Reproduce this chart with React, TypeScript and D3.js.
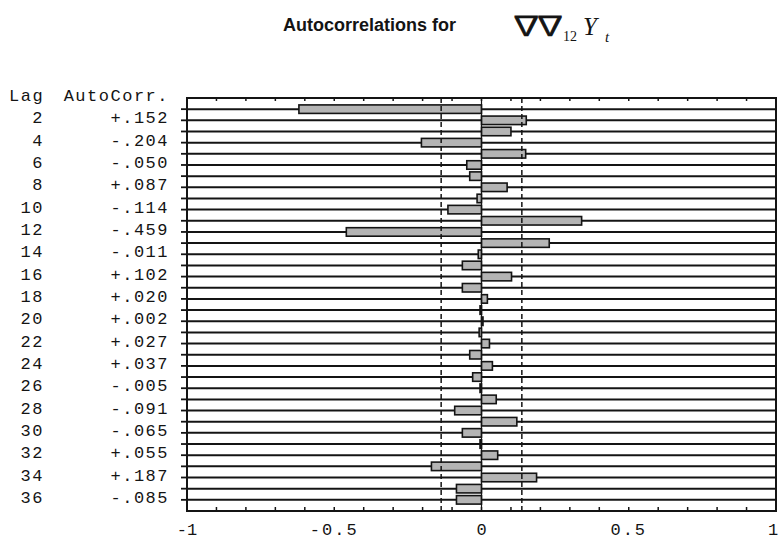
import React from "react";
import * as d3 from "d3";

// Sample autocorrelations of the doubly differenced series, lags 1..36
const lags = [
  1, 2, 3, 4, 5, 6, 7, 8, 9, 10, 11, 12, 13, 14, 15, 16, 17, 18,
  19, 20, 21, 22, 23, 24, 25, 26, 27, 28, 29, 30, 31, 32, 33, 34, 35, 36,
];
const acf = [
  -0.62, 0.152, 0.1, -0.204, 0.15, -0.05, -0.04, 0.087, -0.015, -0.114,
  0.34, -0.459, 0.23, -0.011, -0.065, 0.102, -0.065, 0.02, -0.005, 0.002,
  -0.008, 0.027, -0.04, 0.037, -0.03, -0.005, 0.05, -0.091, 0.12, -0.065,
  -0.005, 0.055, -0.17, 0.187, -0.085, -0.085,
];
// approximate two-standard-error limits
const limit = 0.137;
const xTicks = [-1, -0.5, 0, 0.5, 1];
const xTickLabels = ["-1", "-0.5", "0", "0.5", "1"];
const minorTicks = [
  -0.9, -0.8, -0.7, -0.6, -0.5, -0.4, -0.3, -0.2, -0.1, 0, 0.1, 0.2, 0.3,
  0.4, 0.5, 0.6, 0.7, 0.8, 0.9,
];

const W = 780;
const H = 542;
const left = 187;
const right = 776;
const top = 98;
const bottom = 511;

const mono = "'Liberation Mono', 'Courier New', 'DejaVu Sans Mono', monospace";

function fmt(v: number): string {
  return (v >= 0 ? "+" : "-") + Math.abs(v).toFixed(3).slice(1);
}

export default function App() {
  const x = d3.scaleLinear().domain([-1, 1]).range([left, right]);
  const y = d3.scaleLinear().domain([0, 37]).range([top, bottom]);
  const barH = 8.5;
  const ink = "#141414";

  return (
    <svg
      width={W}
      height={H}
      viewBox={`0 0 ${W} ${H}`}
      style={{ position: "absolute", left: 0, top: 0, background: "#fff" }}
    >
      {/* title */}
      <text
        x={283}
        y={31}
        fontFamily="'Liberation Sans', Arial, sans-serif"
        fontWeight="bold"
        fontSize={18}
        fill={ink}
      >
        Autocorrelations for
      </text>
      <text
        fontFamily="'Noto Sans CJK JP', 'DejaVu Serif', serif"
        fontWeight={400}
        fontSize={26}
        letterSpacing={-7}
        fill={ink}
        stroke={ink}
        strokeWidth={0.7}
        transform="translate(510,35) scale(1.25,1)"
      >
        ∇∇
      </text>
      <text x={563} y={41} fontFamily="'Liberation Serif', serif" fontSize={14} fill={ink}>
        12
      </text>
      <text
        x={583}
        y={35}
        fontFamily="'Liberation Serif', serif"
        fontSize={25}
        fontStyle="italic"
        fill={ink}
      >
        Y
      </text>
      <text
        x={605}
        y={42}
        fontFamily="'Liberation Serif', serif"
        fontSize={15}
        fontStyle="italic"
        fill={ink}
      >
        t
      </text>

      {/* table of even-lag values */}
      <g fontFamily={mono} fontSize={17} fill={ink} letterSpacing={1.5}>
        <text x={9} y={y(0) + 3}>Lag</text>
        <text x={169} y={y(0) + 3} textAnchor="end">AutoCorr.</text>
        {lags.map((lag, i) =>
          lag % 2 === 0 ? (
            <g key={lag}>
              <text x={44} y={y(lag) + 3} textAnchor="end">
                {lag}
              </text>
              <text x={169} y={y(lag) + 3} textAnchor="end">
                {fmt(acf[i])}
              </text>
            </g>
          ) : null
        )}
      </g>

      {/* row lines at each lag */}
      {lags.map((lag) => (
        <line
          key={"g" + lag}
          x1={left}
          x2={right}
          y1={y(lag)}
          y2={y(lag)}
          stroke={ink}
          strokeWidth={2}
        />
      ))}

      {/* left axis ticks */}
      {lags.map((lag) => (
        <line
          key={"t" + lag}
          x1={left - 6}
          x2={left}
          y1={y(lag)}
          y2={y(lag)}
          stroke={ink}
          strokeWidth={1.8}
        />
      ))}

      {/* minor ticks along top and bottom */}
      {minorTicks.map((t) => (
        <g key={"m" + t}>
          <line x1={x(t)} x2={x(t)} y1={top} y2={top + 3} stroke={ink} strokeWidth={1.5} />
          <line x1={x(t)} x2={x(t)} y1={bottom} y2={bottom - 4} stroke={ink} strokeWidth={1.5} />
        </g>
      ))}

      {/* bars */}
      {acf.map((v, i) => {
        const lag = lags[i];
        const x0 = x(Math.min(0, v));
        const x1 = x(Math.max(0, v));
        return (
          <rect
            key={"b" + lag}
            x={x0}
            y={y(lag) - barH / 2}
            width={Math.max(x1 - x0, 1.5)}
            height={barH}
            fill="#b4b4b4"
            stroke={ink}
            strokeWidth={1.6}
          />
        );
      })}

      {/* zero line */}
      <line x1={x(0)} x2={x(0)} y1={top} y2={bottom} stroke={ink} strokeWidth={1.2} />

      {/* confidence limits */}
      {[-limit, limit].map((l) => (
        <line
          key={"c" + l}
          x1={x(l)}
          x2={x(l)}
          y1={top}
          y2={bottom}
          stroke={ink}
          strokeWidth={1.5}
          strokeDasharray="5,3"
        />
      ))}

      {/* frame */}
      <rect
        x={left}
        y={top}
        width={right - left}
        height={bottom - top}
        fill="none"
        stroke={ink}
        strokeWidth={2}
      />

      {/* x axis labels */}
      <g fontFamily={mono} fontSize={17} fill={ink}>
        {xTicks.map((t, i) => (
          <text
            key={"x" + t}
            x={i === xTicks.length - 1 ? x(t) - 3 : x(t)}
            y={535}
            textAnchor="middle"
            letterSpacing={xTickLabels[i].length > 2 ? 2 : 0}
          >
            {xTickLabels[i]}
          </text>
        ))}
      </g>
    </svg>
  );
}
